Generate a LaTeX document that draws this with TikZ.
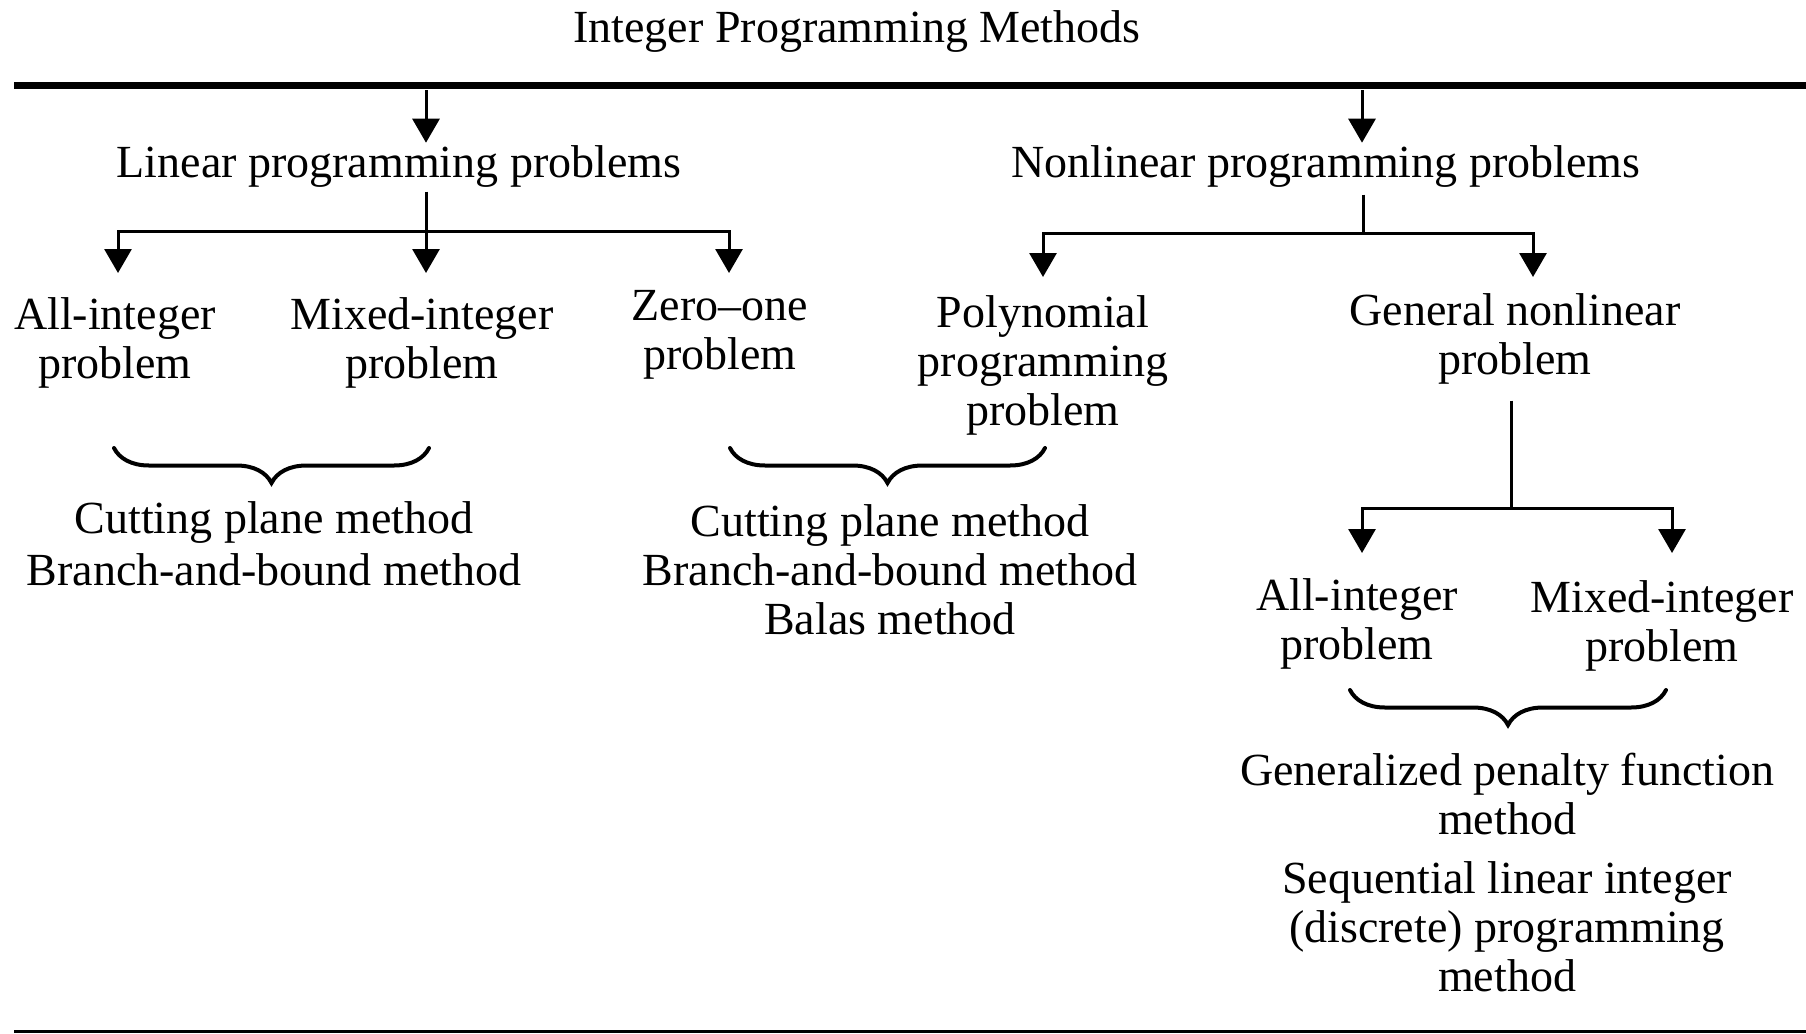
\documentclass[tikz,border=0pt]{standalone}
\usepackage{fontspec}
\setmainfont{Liberation Serif}
\usetikzlibrary{arrows.meta,decorations.pathreplacing}
\newcommand{\mlines}[1]{\begin{tabular}[t]{@{}c@{}}#1\end{tabular}}
\begin{document}
\begin{tikzpicture}[x=1pt,y=-1pt,
  every node/.style={inner sep=0pt, outer sep=0pt, font=\fontsize{46}{49}\selectfont},
  lbl/.style={anchor=base},
  conn/.style={line width=3pt},
  arr/.style={conn, -{Triangle[width=27pt,length=24pt]}},
  brc/.style={line width=4pt, line cap=round, decorate, decoration={brace, mirror, amplitude=35pt}},
  rulethick/.style={line width=7pt},
  rulethin/.style={line width=3.5pt}]
\useasboundingbox (0,0) rectangle (1806,1033);

% rules
\coordinate (rl1) at (14,85);
\coordinate (rr1) at (1806,85);
\coordinate (rl2) at (14,1031.25);
\coordinate (rr2) at (1806,1031.25);
\draw[rulethick] (rl1) -- (rr1);
\draw[rulethin] (rl2) -- (rr2);

% nodes
\node[lbl] (title) at (857,43) {Integer Programming Methods};
\node[lbl] (lp) at (399,177) {\mlines{Linear programming problems}};
\node[lbl] (nlp) at (1326,177) {\mlines{Nonlinear programming problems}};
\node[lbl] (ai) at (115,329) {\mlines{All-integer\\problem}};
\node[lbl] (mi) at (422,329) {\mlines{Mixed-integer\\problem}};
\node[lbl] (zo) at (720,320) {\mlines{Zero–one\\problem}};
\node[lbl] (poly) at (1043,327) {\mlines{Polynomial\\programming\\problem}};
\node[lbl] (gen) at (1515,325) {\mlines{General nonlinear\\problem}};
\node[lbl] (ai2) at (1357,610) {\mlines{All-integer\\problem}};
\node[lbl] (mi2) at (1662,612) {\mlines{Mixed-integer\\problem}};
\node[lbl] (m1) at (274,533) {\mlines{Cutting plane method\\[3pt]Branch-and-bound method}};
\node[lbl] (m2) at (890,536) {\mlines{Cutting plane method\\Branch-and-bound method\\Balas method}};
\node[lbl] (m3) at (1507,785) {\mlines{Generalized penalty function\\method\\[10pt]Sequential linear integer\\(discrete) programming\\method}};

% top arrows
\coordinate (r1) at (426,90);
\coordinate (r2) at (1362,90);
\draw[arr] (r1) -- (r1 |- lp.north);
\draw[arr] (r2) -- (r2 |- nlp.north);

% linear branch
\coordinate (j1) at (426,231);
\coordinate (t11) at (118,273);
\coordinate (t12) at (426,273);
\coordinate (t13) at (729,273);
\draw[arr] (j1 |- lp.south) -- (t12);
\draw[arr] (j1) -| (t11);
\draw[arr] (j1) -| (t13);

% nonlinear branch
\coordinate (j2) at (1363,233);
\coordinate (t21) at (1043,277);
\coordinate (t22) at (1533,277);
\draw[conn, shorten <=3pt] (j2 |- nlp.south) -- (j2);
\draw[arr] (j2) -| (t21);
\draw[arr] (j2) -| (t22);

% general nonlinear branch
\coordinate (j3) at (1511,508);
\coordinate (t31) at (1362,553);
\coordinate (t32) at (1672,553);
\draw[conn, shorten <=12pt] (j3 |- gen.south) -- (j3);
\draw[arr] (j3) -| (t31);
\draw[arr] (j3) -| (t32);

% braces
\coordinate (b1a) at (114,448);
\coordinate (b1b) at (429,448);
\coordinate (b2a) at (730,448);
\coordinate (b2b) at (1045,448);
\coordinate (b3a) at (1350,690);
\coordinate (b3b) at (1666,690);
\draw[brc] (b1a) -- (b1b);
\draw[brc] (b2a) -- (b2b);
\draw[brc] (b3a) -- (b3b);
\end{tikzpicture}
\end{document}
